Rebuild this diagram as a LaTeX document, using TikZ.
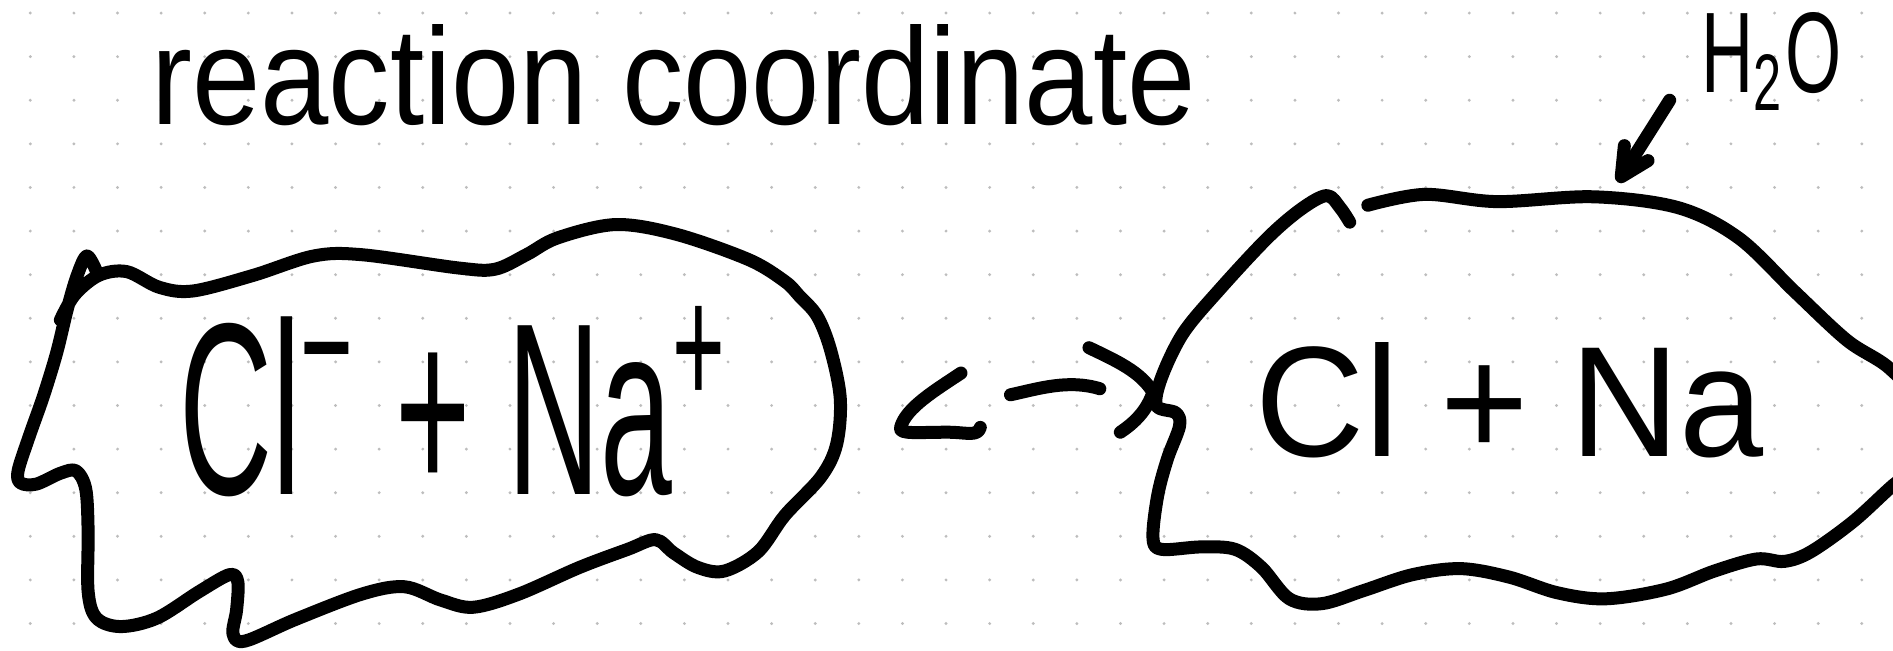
\documentclass[tikz,border=0pt]{standalone}
\usepackage{fontspec}
\setmainfont{Liberation Sans}
\usetikzlibrary{arrows.meta}
\definecolor{dotc}{HTML}{BDBDBD}
\begin{document}
\begin{tikzpicture}[x=0.6036pt,y=-0.6036pt,
  pen/.style={line width=6.5pt, line cap=round, line join=round},
  txt/.style={inner sep=0pt, anchor=base west}]
\useasboundingbox (0,0) rectangle (1568,539);
\fill[white] (0,0) rectangle (1568,539);
\clip (0,0) rectangle (1568,539);
% dot grid
\foreach \i in {0,...,43}{\foreach \j in {0,...,14}{\fill[dotc] ({25.1+36.12*\i},{10.8+36.12*\j}) circle (0.8pt);}}
% texts
\node[txt] (title) at (125,103) {\resizebox{522pt}{50pt}{reaction coordinate}};
\node[txt] (water) at (1409,77) {\resizebox{70pt}{40pt}{H\textsubscript{2}O}};
\node[txt] (ionic) at (148,410) {\resizebox{276pt}{94pt}{Cl\textsuperscript{−} + Na\textsuperscript{+}}};
\node[txt] (neutral) at (1040,378) {\resizebox{254pt}{57pt}{Cl + Na}};
% left blob
\draw[pen] plot[smooth, tension=0.55] coordinates {(80,225) (72,212) (64,228) (56,255) (47,292) (36,328) (24,362) (15,390) (17,400) (30,401) (50,392) (63,390) (71,405) (73,440) (73,490) (80,512) (100,519) (130,512) (165,490) (190,476) (197,482) (196,505) (193,525) (203,531) (245,513) (300,492) (335,486) (365,497) (392,503) (430,492) (480,470) (520,455) (543,447) (558,458) (578,470) (600,473) (628,457) (650,427) (680,395) (693,368) (696,330) (688,290) (677,262) (662,245) (650,233) (620,215) (560,194) (510,186) (462,197) (436,211) (410,223) (380,222) (300,211) (260,212) (210,228) (160,241) (132,238) (105,225) (82,228) (62,244) (50,265)};
% right blob
\draw[pen] plot[smooth, tension=0.55] coordinates {(1133,170) (1180,161) (1240,167) (1320,163) (1390,172) (1440,197) (1487,242) (1530,282) (1565,305) (1595,340) (1595,380) (1568,402) (1535,432) (1500,457) (1478,465) (1455,463) (1420,473) (1380,488) (1330,496) (1290,491) (1250,478) (1210,471) (1170,476) (1130,489) (1095,500) (1068,496) (1045,470) (1023,455) (995,453) (962,455) (955,445) (959,410) (967,380) (977,353) (974,342) (958,336) (962,313) (980,276) (1010,240) (1050,197) (1078,173) (1099,162) (1110,172) (1118,184)};
% double arrow between blobs
\coordinate (arrL) at (746,354);
\coordinate (arrR) at (955,325);
\draw[pen] (796,309) .. controls (775,323) and (750,338) .. (arrL) .. controls (744,360) and (760,358) .. (785,358) .. controls (800,358) and (810,362) .. (812,354);
\draw[pen] (837,327) .. controls (860,322) and (885,314) .. (911,322);
\draw[pen] (902,288) .. controls (925,299) and (945,308) .. (arrR) .. controls (950,340) and (940,350) .. (928,358);
% water arrow
\coordinate (wtail) at (1383,83);
\coordinate (wtip) at (1340,151);
\draw[pen, -{Straight Barb[length=14pt,width=14pt,round]}] (wtail) -- (wtip);
\end{tikzpicture}
\end{document}
